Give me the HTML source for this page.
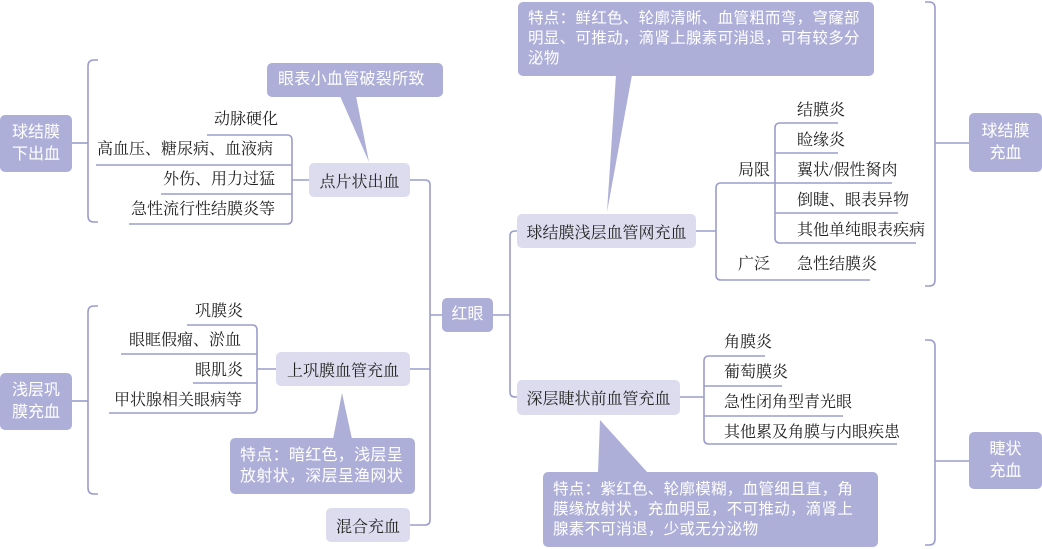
<!DOCTYPE html>
<html><head><meta charset="utf-8"><style>
body{margin:0;width:1042px;height:549px;background:#fff;position:relative;overflow:hidden;font-family:"Liberation Serif","Noto Serif CJK SC",serif}
.d{position:absolute;background:#aeafd8;color:#fff;border-radius:5px;font-family:"Liberation Sans","Noto Sans CJK SC",sans-serif;font-size:16px;line-height:22px;display:flex;align-items:center;justify-content:center;text-align:center}
.l{position:absolute;background:#dcdcee;color:#222;border-radius:5px;font-size:16px;display:flex;align-items:center;justify-content:center;white-space:nowrap}
.t{position:absolute;font-size:16px;color:#222;white-space:nowrap;line-height:20px}
.c{position:absolute;color:#fff;font-family:"Liberation Sans","Noto Sans CJK SC",sans-serif;font-size:15.5px;line-height:20px;letter-spacing:0.3px}
svg{position:absolute;left:0;top:0}
</style></head><body>
<svg width="1042" height="549" fill="none" stroke="#9c9dcc" stroke-width="1.6">
<!-- callout shapes -->
<g fill="#aeafd8" stroke="none">
<rect x="267" y="63" width="176" height="34" rx="5"/>
<polygon points="340,96 356,96 369,162"/>
<rect x="518" y="2" width="356" height="74" rx="5"/>
<polygon points="616,75 632,75 607,212"/>
<rect x="230" y="438" width="185" height="56" rx="5"/>
<polygon points="333,439 352,439 342,393"/>
<rect x="543" y="472" width="335" height="75" rx="5"/>
<polygon points="598,473 648,473 600,420"/>
</g>
<!-- left top -->
<path d="M98,60 h-4 q-6,0 -6,6 v150 q0,6 6,6 h4"/>
<path d="M72,143 h16"/>
<path d="M207,135 h80 q5,0 5,5 v79 q0,5 -5,5 h-158"/>
<path d="M96,165 h196 M161,194 h131 M292,180 h17"/>
<!-- center spine -->
<path d="M410,180 h15 q5,0 5,5 v335 q0,5 -5,5 h-15"/>
<path d="M410,369 h20 M430,315 h12"/>
<!-- left bottom -->
<path d="M98,306 h-4 q-6,0 -6,6 v176 q0,6 6,6 h4"/>
<path d="M72,401 h16"/>
<path d="M187,325 h65 q5,0 5,5 v78 q0,5 -5,5 h-143"/>
<path d="M121,354 h136 M193,383 h64 M257,369 h19"/>
<!-- red eye right -->
<path d="M493,315 h17 M517,231 h-2 q-5,0 -5,5 v156 q0,5 5,5 h2"/>
<!-- right top -->
<path d="M696,231 h20 M892,183 h-171 q-5,0 -5,5 v87 q0,5 5,5 h149"/>
<path d="M838,123 h-58 q-5,0 -5,5 v110 q0,5 5,5 h136"/>
<path d="M775,153 h63 M775,213 h123"/>
<path d="M925,2 h4 q6,0 6,6 v272 q0,6 -6,6 h-4 M935,143 h34"/>
<!-- right bottom -->
<path d="M680,397 h24 M765,356 h-56 q-5,0 -5,5 v78 q0,5 5,5 h188"/>
<path d="M704,386 h78 M704,416 h139"/>
<path d="M925,340 h4 q6,0 6,6 v193 q0,6 -6,6 h-4 M935,461 h34"/>
</svg>
<div class="d" style="left:0;top:115px;width:72px;height:57px">球结膜<br>下出血</div>
<div class="d" style="left:0;top:373px;width:72px;height:57px">浅层巩<br>膜充血</div>
<div class="d" style="left:442px;top:298px;width:51px;height:34px">红眼</div>
<div class="d" style="left:969px;top:113px;width:73px;height:59px">球结膜<br>充血</div>
<div class="d" style="left:969px;top:432px;width:73px;height:57px">睫状<br>充血</div>
<div class="c" style="left:278px;top:70px;font-size:16px">眼表小血管破裂所致</div>
<div class="c" style="left:528px;top:9px">特点：鲜红色、轮廓清晰、血管粗而弯，穹窿部<br>明显、可推动，滴肾上腺素可消退，可有较多分<br>泌物</div>
<div class="c" style="left:240px;top:445px;font-size:16px;line-height:21px">特点：暗红色，浅层呈<br>放射状，深层呈渔网状</div>
<div class="c" style="left:553px;top:480px">特点：紫红色、轮廓模糊，血管细且直，角<br>膜缘放射状，充血明显，不可推动，滴肾上<br>腺素不可消退，少或无分泌物</div>
<div class="l" style="left:309px;top:163px;width:101px;height:34px">点片状出血</div>
<div class="l" style="left:276px;top:352px;width:134px;height:34px">上巩膜血管充血</div>
<div class="l" style="left:326px;top:508px;width:84px;height:34px">混合充血</div>
<div class="l" style="left:517px;top:214px;width:179px;height:34px">球结膜浅层血管网充血</div>
<div class="l" style="left:517px;top:380px;width:163px;height:35px">深层睫状前血管充血</div>
<div class="t" style="left:214px;top:110px">动脉硬化</div>
<div class="t" style="left:97px;top:140px">高血压、糖尿病、血液病</div>
<div class="t" style="left:163px;top:170px">外伤、用力过猛</div>
<div class="t" style="left:131px;top:200px">急性流行性结膜炎等</div>
<div class="t" style="left:195px;top:302px">巩膜炎</div>
<div class="t" style="left:129px;top:331px">眼眶假瘤、淤血</div>
<div class="t" style="left:195px;top:361px">眼肌炎</div>
<div class="t" style="left:114px;top:391px">甲状腺相关眼病等</div>
<div class="t" style="left:797px;top:101px">结膜炎</div>
<div class="t" style="left:797px;top:131px">睑缘炎</div>
<div class="t" style="left:738px;top:161px">局限</div>
<div class="t" style="left:797px;top:161px">翼状/假性胬肉</div>
<div class="t" style="left:797px;top:191px">倒睫、眼表异物</div>
<div class="t" style="left:797px;top:221px">其他单纯眼表疾病</div>
<div class="t" style="left:738px;top:255px">广泛</div>
<div class="t" style="left:797px;top:255px">急性结膜炎</div>
<div class="t" style="left:724px;top:333px">角膜炎</div>
<div class="t" style="left:724px;top:363px">葡萄膜炎</div>
<div class="t" style="left:724px;top:393px">急性闭角型青光眼</div>
<div class="t" style="left:724px;top:423px">其他累及角膜与内眼疾患</div>
</body></html>
